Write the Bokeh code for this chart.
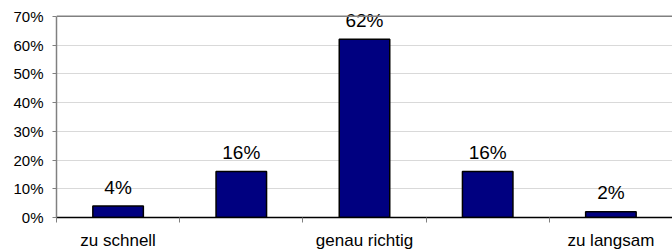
from bokeh.plotting import figure
from bokeh.models import ColumnDataSource, FixedTicker, Range1d, NumeralTickFormatter, Span
from bokeh.embed import file_html
from bokeh.resources import INLINE
from bokeh.core.properties import value

categories = ["zu schnell", "", "genau richtig", "", "zu langsam"]
values = [0.04, 0.16, 0.62, 0.16, 0.02]
labels = ["4%", "16%", "62%", "16%", "2%"]
y_ticks = [0, 0.1, 0.2, 0.3, 0.4, 0.5, 0.6, 0.7]
y_max = 0.7

xs = [i + 0.5 for i in range(len(categories))]
src = ColumnDataSource(dict(x=xs, top=values, lab=labels))

p = figure(width=672, height=252, output_backend="svg", toolbar_location=None,
           x_range=Range1d(0, len(categories)), y_range=Range1d(0, 0.755),
           min_border_left=56, min_border_right=0, min_border_top=0, min_border_bottom=33)

p.vbar(x="x", top="top", width=0.41, source=src, fill_color="#000080",
       line_color="black", line_width=1.5)
p.text(x="x", y="top", text="lab", source=src, text_align="center",
       text_baseline="alphabetic", y_offset=-19, text_font=value("Liberation Sans"),
       text_font_size="19px", text_color="black")

p.outline_line_color=None
p.add_layout(Span(location=y_max, dimension="width", line_color="#808080", line_width=1.5))
p.background_fill_color="white"
p.border_fill_color="white"

p.xgrid.grid_line_color=None
p.ygrid.grid_line_color="#d9d9d9"
p.ygrid.ticker = FixedTicker(ticks=y_ticks[:-1])

p.yaxis.ticker = FixedTicker(ticks=y_ticks)
p.yaxis.bounds = (0, y_max)
p.yaxis.formatter = NumeralTickFormatter(format="0%")
p.yaxis.axis_line_color="#808080"
p.yaxis.axis_line_width=1.5
p.yaxis.major_tick_line_color="#808080"
p.yaxis.major_tick_out=4
p.yaxis.major_tick_in=0
p.yaxis.minor_tick_line_color=None
p.yaxis.major_label_text_font="Liberation Sans"
p.yaxis.major_label_text_font_size="15px"
p.yaxis.major_label_text_color="black"
p.yaxis.major_label_standoff=9

p.xaxis.ticker = FixedTicker(ticks=xs, minor_ticks=list(range(len(categories) + 1)))
p.xaxis.major_label_overrides = {x: c for x, c in zip(xs, categories)}
p.xaxis.axis_line_color="black"
p.xaxis.axis_line_width=1.5
p.xaxis.major_tick_line_color=None
p.xaxis.minor_tick_line_color="#808080"
p.xaxis.minor_tick_out=5
p.xaxis.minor_tick_in=0
p.xaxis.major_label_text_font="Liberation Sans"
p.xaxis.major_label_text_font_size="17px"
p.xaxis.major_label_text_color="black"
p.xaxis.major_label_standoff=7

open("out.html", "w").write(file_html(p, INLINE))
